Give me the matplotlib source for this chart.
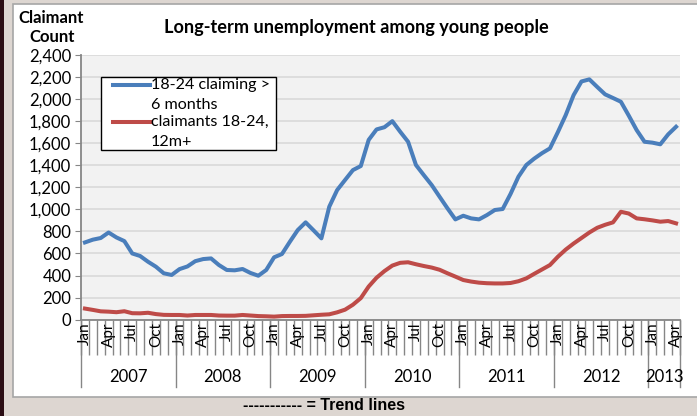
import numpy as np
import matplotlib
matplotlib.use("Agg")
import matplotlib.pyplot as plt
import matplotlib.transforms as mtransforms
from matplotlib.lines import Line2D
from matplotlib.patches import Rectangle

plt.rcParams['font.family'] = ['Lato', 'DejaVu Sans']

# monthly claimant counts, Jan 2007 .. Apr 2013
claim_6m = [700, 725, 740, 790, 745, 712, 600, 577, 525, 480, 420, 405,
            458, 482, 530, 549, 555, 495, 450, 447, 459, 423, 398, 450,
            565, 595, 706, 812, 882, 810, 737, 1024, 1175, 1266, 1356, 1393,
            1630, 1725, 1745, 1800, 1704, 1613, 1402, 1310, 1220, 1114, 1009, 909,
            942, 918, 909, 948, 994, 1003, 1140, 1296, 1402, 1460, 1510, 1553,
            1700, 1855, 2036, 2160, 2179, 2110, 2043, 2010, 1976, 1850, 1719, 1613,
            1605, 1590, 1680, 1749]
claim_12m = [100, 88, 75, 72, 67, 76, 58, 57, 62, 50, 43, 42,
             42, 37, 42, 42, 42, 37, 36, 36, 42, 37, 32, 30,
             27, 32, 33, 33, 34, 39, 44, 48, 66, 90, 135, 195,
             300, 380, 440, 490, 515, 520, 502, 486, 472, 452, 420, 390,
             359, 345, 335, 330, 328, 328, 332, 348, 374, 415, 455, 495,
             570, 635, 690, 740, 790, 833, 860, 882, 978, 962, 918, 910,
             900, 888, 894, 873]
month_names = ['Jan', 'Apr', 'Jul', 'Oct']
years = ['2007', '2008', '2009', '2010', '2011', '2012', '2013']

n = len(claim_6m)
x = np.arange(n)

fig = plt.figure(figsize=(6.97, 4.16), dpi=100)
fig.patch.set_facecolor('#ddd6d1')
# chart area + left dark border
fig.patches.append(Rectangle((13 / 697, 1 - 397 / 416), 1, 393 / 416, transform=fig.transFigure,
                             facecolor='white', edgecolor='#a6a6a6', lw=1.2, zorder=-2))
fig.patches.append(Rectangle((0, 0), 4 / 697, 1, transform=fig.transFigure,
                             facecolor='#2b0d14', edgecolor='none', zorder=-2))

ax = fig.add_axes([81 / 697, 1 - 319.6 / 416, 599 / 697, 264.6 / 416])
ax.set_facecolor('#f2f2f2')
blue = '#4a7ebb'
red = '#be4b48'
ax.plot(x, claim_6m, color=blue, lw=2.9, solid_joinstyle='round', zorder=3)
ax.plot(x, claim_12m, color=red, lw=2.9, solid_joinstyle='round', zorder=3)

ax.set_xlim(-0.5, n - 0.5)
ax.set_ylim(0, 2400)
ax.set_yticks(np.arange(0, 2401, 200))
ax.set_yticklabels([f'{v:,}' for v in range(0, 2401, 200)], fontsize=12)
ax.yaxis.grid(True, color='#d9d9d9', lw=1.2)
ax.set_axisbelow(True)
ax.tick_params(axis='y', length=4, color='#868686', pad=3)

ax.set_xticks(np.arange(-0.5, n, 1))
ax.set_xticklabels([])
ax.tick_params(axis='x', length=25, color='#868686', width=1)

for s in ['top', 'right']:
    ax.spines[s].set_visible(False)
for s in ['left', 'bottom']:
    ax.spines[s].set_color('#868686')
    ax.spines[s].set_linewidth(1.3)

trans = mtransforms.blended_transform_factory(ax.transData, ax.transAxes)
px = 1 / 264.6
for i in range(n):
    if i % 3 == 0:
        ax.text(i, -3 * px, month_names[(i % 12) // 3], rotation=90, ha='center', va='top',
                fontsize=11, transform=trans)
# year separators and labels
bounds = list(range(0, n, 12)) + [n]
for b in bounds:
    ax.add_line(Line2D([b - 0.5, b - 0.5], [0, -67 * px], transform=trans,
                       color='#868686', lw=1, clip_on=False))
for k, yr in enumerate(years):
    lo = bounds[k] - 0.5
    hi = bounds[k + 1] - 0.5
    ax.text((lo + hi) / 2, -57 * px, yr, ha='center', va='center', fontsize=12,
            transform=trans)

# legend box
fig.patches.append(Rectangle((101 / 697, 1 - 150 / 416), 175 / 697, 73 / 416,
                             transform=fig.transFigure, facecolor='white',
                             edgecolor='black', lw=1, zorder=5))
for yy, col, lines in [(85, blue, ['18-24 claiming >', '6 months']),
                       (122, red, ['claimants 18-24,', '12m+'])]:
    fig.add_artist(Line2D([113 / 697, 150 / 697], [1 - yy / 416, 1 - yy / 416],
                          color=col, lw=2.9, zorder=6))
    fig.text(151 / 697, 1 - yy / 416, lines[0], fontsize=11.6, va='center', zorder=6)
    fig.text(151 / 697, 1 - (yy + 20) / 416, lines[1], fontsize=11.6, va='center', zorder=6)

fig.text(51 / 697, 1 - 18 / 416, 'Claimant', fontsize=12, fontweight='bold', ha='center', va='center')
fig.text(52 / 697, 1 - 37 / 416, 'Count', fontsize=12, fontweight='bold', ha='center', va='center')
fig.text(356 / 697, 1 - 27 / 416, 'Long-term unemployment among young people', fontsize=13.1,
         fontweight='bold', ha='center', va='center')
fig.text(324 / 697, 1 - 406 / 416, '----------- = Trend lines', fontsize=11.5, fontweight='bold',
         ha='center', va='center', family='Liberation Sans')

fig.savefig('out.png', dpi=100, facecolor=fig.get_facecolor())
